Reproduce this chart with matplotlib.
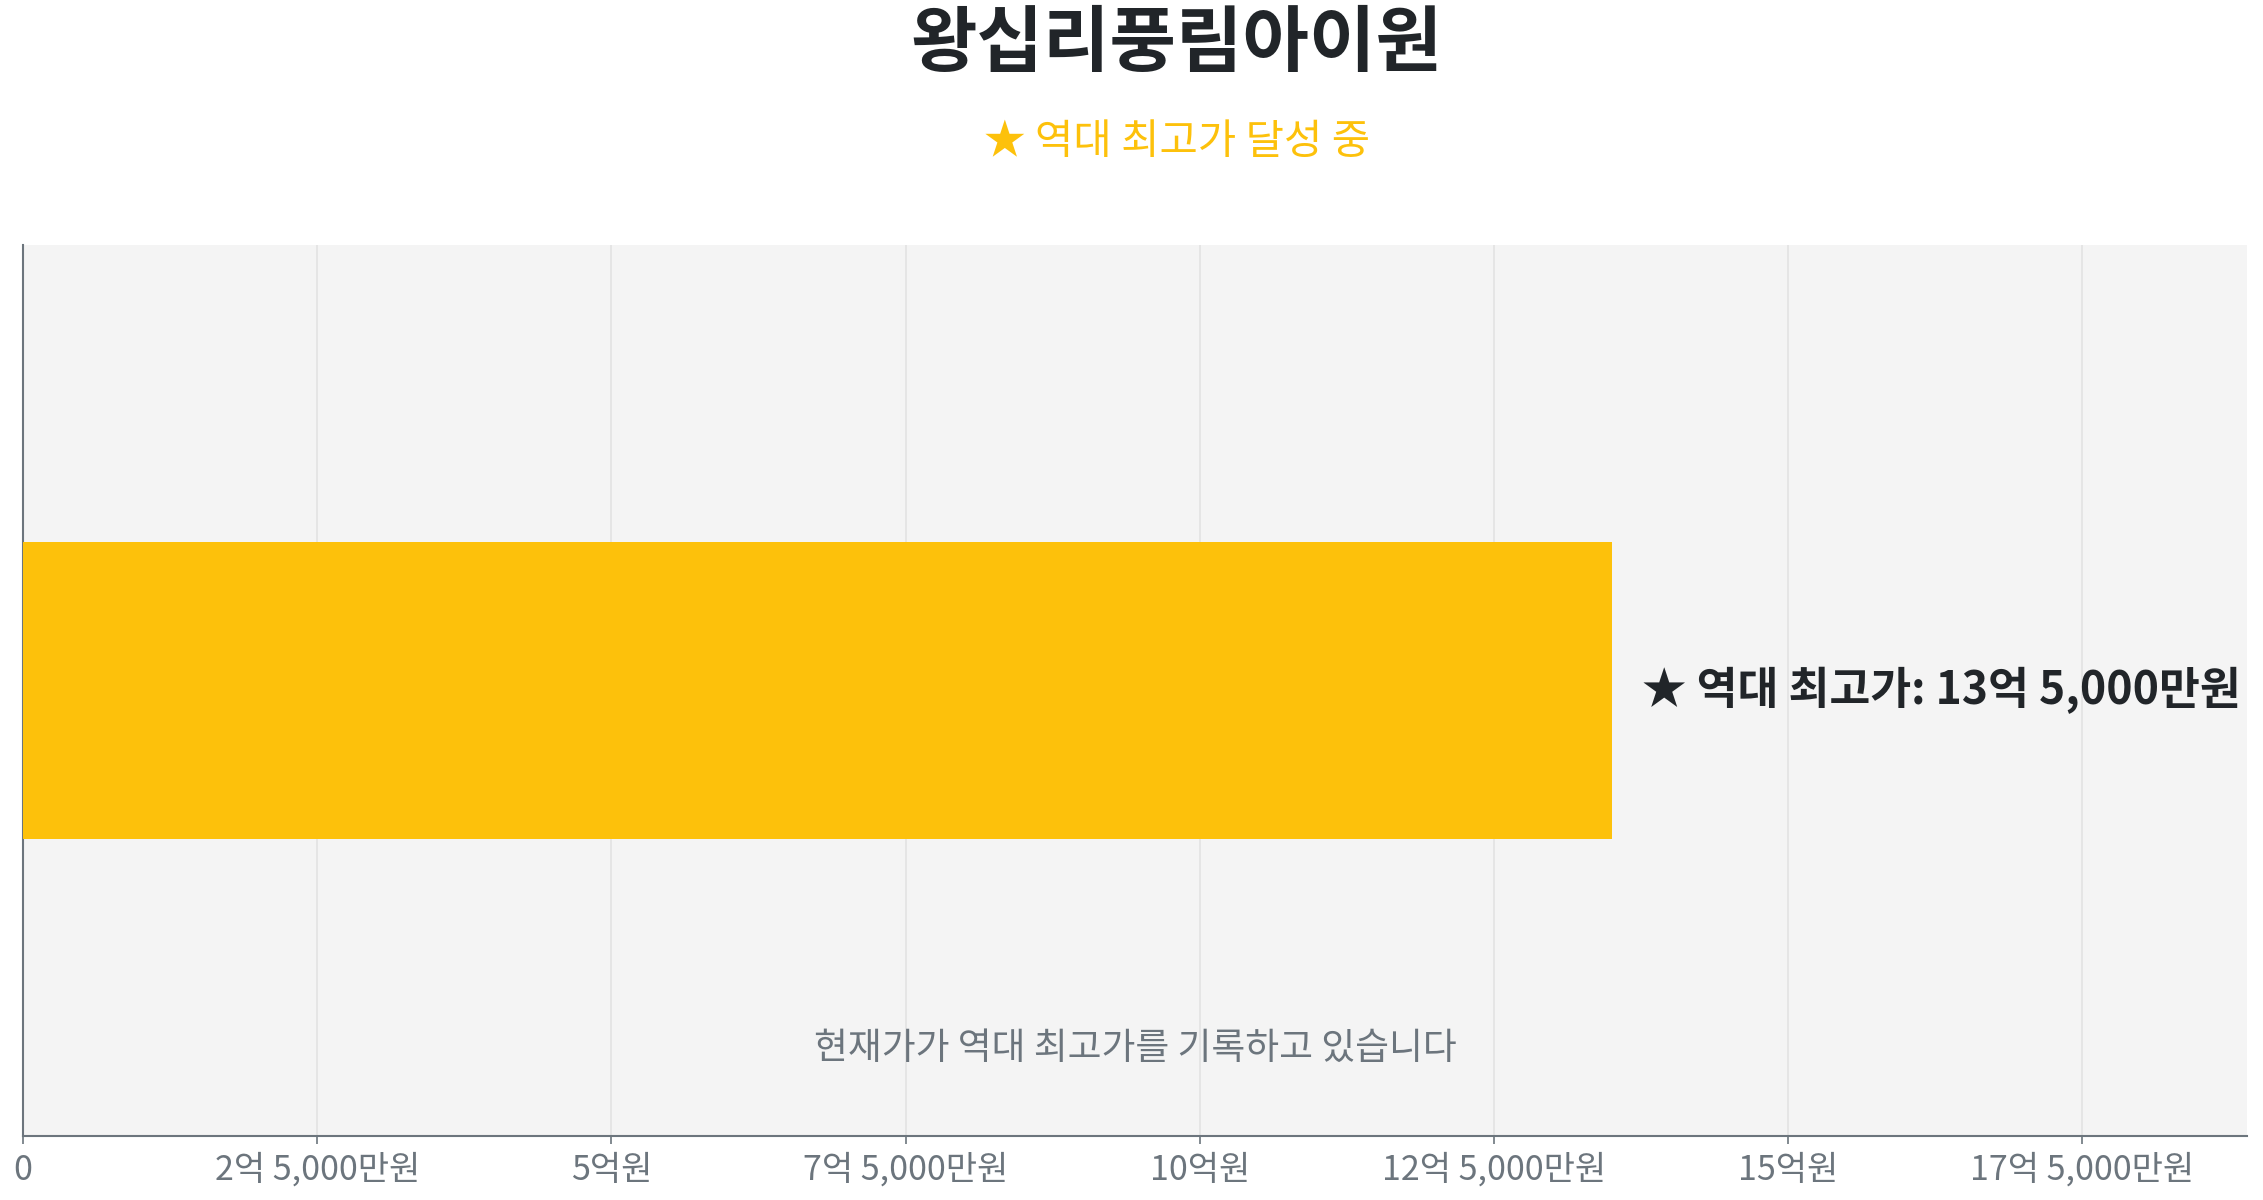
import matplotlib
matplotlib.use('Agg')
import matplotlib.pyplot as plt

plt.rcParams['font.family'] = ['Noto Sans CJK KR', 'DejaVu Sans']

# data (unit: 억원)
apt_name = '왕십리풍림아이원'
subtitle = '★ 역대 최고가 달성 중'
labels = ['역대 최고가']
values = [13.5]
value_text = '★ 역대 최고가: 13억 5,000만원'
note_text = '현재가가 역대 최고가를 기록하고 있습니다'
tick_values = [0, 2.5, 5, 7.5, 10, 12.5, 15, 17.5]
tick_labels = ['0', '2억 5,000만원', '5억원', '7억 5,000만원', '10억원',
               '12억 5,000만원', '15억원', '17억 5,000만원']

gold = '#FDC10B'
dark = '#212529'
gray = '#6C757D'

fig = plt.figure(figsize=(22.63, 12), dpi=100)
ax = fig.add_axes([0.0102, 0.0533, 0.9828, 0.7427])
ax.set_facecolor('#F4F4F4')

ax.barh([0], values, height=1.0, color=gold, zorder=3)
ax.set_ylim(-1.5, 1.5)
ax.set_xlim(0, max(values) * 1.4)

ax.annotate(value_text, xy=(values[0], 0), xytext=(22, 0), textcoords='offset points',
            va='center', ha='left', fontsize=32, fontweight='bold', color=dark,
            family=['Noto Sans CJK KR', 'DejaVu Sans'])

ax.text(0.5, 0.098, note_text, transform=ax.transAxes, ha='center', va='center',
        fontsize=26.5, color=gray)

ax.set_xticks(tick_values)
ax.set_xticklabels(tick_labels, fontsize=24.5, color=gray)
ax.set_yticks([])
ax.tick_params(axis='x', length=6, width=1.2, color=gray, pad=6)
ax.grid(axis='x', color='#E2E2E2', linewidth=1.2, zorder=0)
ax.set_axisbelow(True)

for s in ['top', 'right']:
    ax.spines[s].set_visible(False)
for s in ['left', 'bottom']:
    ax.spines[s].set_color(gray)
    ax.spines[s].set_linewidth(1.5)

fig.text(0.52, 0.963, apt_name, ha='center', va='center', fontsize=52,
         fontweight='bold', color=dark)
fig.text(0.52, 0.881, subtitle, ha='center', va='center', fontsize=30,
         color=gold, family=['Noto Sans CJK KR', 'DejaVu Sans'])

fig.savefig('out.png', dpi=100)
